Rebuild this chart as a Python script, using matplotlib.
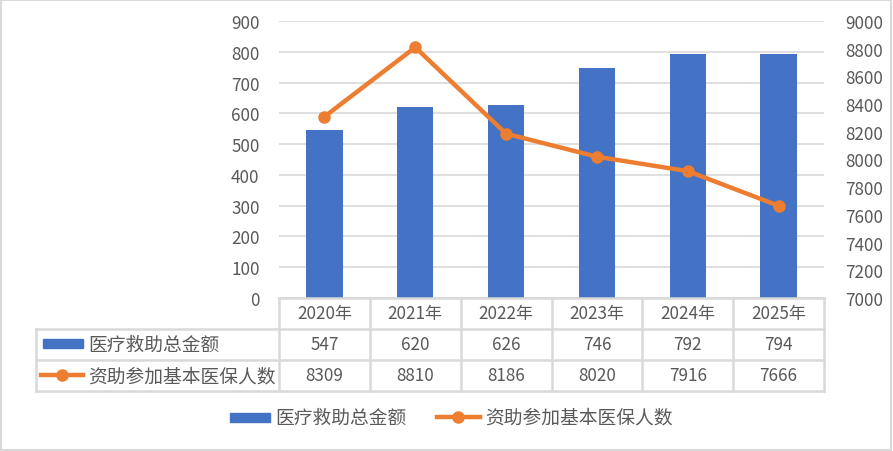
import matplotlib
matplotlib.use("Agg")
import matplotlib.pyplot as plt
from matplotlib.lines import Line2D
from matplotlib.patches import Rectangle
from matplotlib import transforms

plt.rcParams['font.family'] = ['Noto Sans CJK SC', 'DejaVu Sans']

years = ['2020年', '2021年', '2022年', '2023年', '2024年', '2025年']
amount = [547, 620, 626, 746, 792, 794]
people = [8309, 8810, 8186, 8020, 7916, 7666]
name_amount = '医疗救助总金额'
name_people = '资助参加基本医保人数'

BLUE = '#4472C4'
ORANGE = '#ED7D31'
TXT = '#595959'
GRID = '#D9D9D9'
NUM_FS = 12.3
CJK_FS = 13.5

W, H = 893, 452
fig = plt.figure(figsize=(W / 100, H / 100), dpi=100)


def fx(px):
    return px / W


def fy(py):
    return 1 - py / H


ax = fig.add_axes([fx(279), fy(299), fx(824) - fx(279), fy(22) - fy(299)])
ax2 = ax.twinx()

x = list(range(len(years)))
ax.bar(x, amount, width=0.4, color=BLUE, zorder=3)
ax2.plot(x, people, color=ORANGE, lw=3.2, marker='o', ms=8, zorder=4)

ax.set_xlim(-0.5, len(years) - 0.5)
ax.set_ylim(0, 900)
ax.set_yticks(range(0, 901, 100))
ax2.set_ylim(7000, 9000)
ax2.set_yticks(range(7000, 9001, 200))
ax.set_xticks([])
ax.yaxis.grid(True, color=GRID, lw=1.2, zorder=0)
ax.set_axisbelow(True)
for a in (ax, ax2):
    for s in a.spines.values():
        s.set_visible(False)
    a.tick_params(length=0, labelsize=NUM_FS, labelcolor=TXT, pad=14)
ax2.tick_params(pad=15)

# data table below the plot
tr = transforms.blended_transform_factory(ax.transData, fig.transFigure)
rows_y = [fy(299), fy(330), fy(361), fy(392)]
lk = dict(color=GRID, lw=1.8, clip_on=False)
n = len(years)
fig.add_artist(Line2D([fx(279), fx(824)], [rows_y[0]] * 2, transform=fig.transFigure, **lk))
for yy in rows_y[1:]:
    fig.add_artist(Line2D([fx(36), fx(824)], [yy] * 2, transform=fig.transFigure, **lk))
for i in range(n + 1):
    fig.add_artist(Line2D([i - 0.5, i - 0.5], [rows_y[0], rows_y[3]], transform=tr, **lk))
fig.add_artist(Line2D([fx(36), fx(36)], [rows_y[1], rows_y[3]], transform=fig.transFigure, **lk))

for i in range(n):
    fig.text(i, (rows_y[0] + rows_y[1]) / 2, years[i], transform=tr, ha='center', va='center',
             fontsize=NUM_FS, color=TXT)
    fig.text(i, (rows_y[1] + rows_y[2]) / 2, str(amount[i]), transform=tr, ha='center',
             va='center', fontsize=NUM_FS, color=TXT)
    fig.text(i, (rows_y[2] + rows_y[3]) / 2, str(people[i]), transform=tr, ha='center',
             va='center', fontsize=NUM_FS, color=TXT)

# row keys
fig.add_artist(Rectangle((fx(43), fy(349)), fx(83) - fx(43), fy(340) - fy(349),
                         transform=fig.transFigure, color=BLUE))
fig.text(fx(88), (rows_y[1] + rows_y[2]) / 2, name_amount, ha='left', va='center',
         fontsize=CJK_FS, color=TXT)
fig.add_artist(Line2D([fx(41), fx(83)], [fy(376)] * 2, transform=fig.transFigure,
                      color=ORANGE, lw=3.2, clip_on=False))
fig.add_artist(Line2D([fx(62)], [fy(376)], transform=fig.transFigure, color=ORANGE,
                      marker='o', ms=8, clip_on=False))
fig.text(fx(88), (rows_y[2] + rows_y[3]) / 2, name_people, ha='left', va='center',
         fontsize=CJK_FS, color=TXT)

# legend at bottom
fig.add_artist(Rectangle((fx(230), fy(423)), fx(270) - fx(230), fy(414) - fy(423),
                         transform=fig.transFigure, color=BLUE))
fig.text(fx(275), fy(418), name_amount, ha='left', va='center', fontsize=CJK_FS, color=TXT)
fig.add_artist(Line2D([fx(437), fx(480)], [fy(418)] * 2, transform=fig.transFigure,
                      color=ORANGE, lw=3.2))
fig.add_artist(Line2D([fx(458)], [fy(418)], transform=fig.transFigure, color=ORANGE,
                      marker='o', ms=8))
fig.text(fx(485), fy(418), name_people, ha='left', va='center', fontsize=CJK_FS, color=TXT)

# outer border
fig.add_artist(Rectangle((0.001, 0.002), 0.997, 0.995, transform=fig.transFigure,
                         fill=False, ec=GRID, lw=1.5))

fig.savefig('out.png', dpi=100)
